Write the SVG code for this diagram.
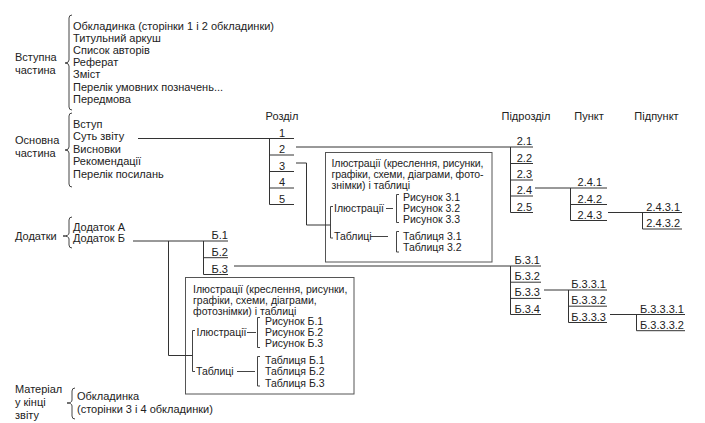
<svg xmlns="http://www.w3.org/2000/svg" width="705" height="423" viewBox="0 0 705 423">
<style>
text { font-family: "Liberation Sans", Arial, sans-serif; font-size: 11px; fill: #222; }
.bx text { font-size: 10.5px; }
.ln { stroke: #333; stroke-width: 1; fill: none; }
.br { stroke: #444; stroke-width: 1; fill: none; }
.box { stroke: #555; stroke-width: 1; fill: none; }
.e { text-anchor: end; }
.m { text-anchor: middle; }
</style>
<rect width="705" height="423" fill="#fff"/>

<g id="intro">
<text x="15" y="61">Вступна</text>
<text x="15" y="73.5">частина</text>
<path class="br" d="M72,15 Q69,15 69,18 V60 Q69,63 65,63 Q69,63 69,66 V107 Q69,110 72,110"/>
<text x="73" y="29.5">Обкладинка (сторінки 1 і 2 обкладинки)</text>
<text x="73" y="41.7">Титульний аркуш</text>
<text x="73" y="53.9">Список авторів</text>
<text x="73" y="66.1">Реферат</text>
<text x="73" y="78.3">Зміст</text>
<text x="73" y="90.5">Перелік умовних позначень...</text>
<text x="73" y="102.7">Передмова</text>
</g>

<g id="main-part">
<text x="15" y="144.4">Основна</text>
<text x="15" y="157">частина</text>
<path class="br" d="M72,113 Q69,113 69,116 V147 Q69,150 65,150 Q69,150 69,153 V184 Q69,187 72,187"/>
<text x="73" y="127.7">Вступ</text>
<text x="73" y="140.2">Суть звіту</text>
<text x="73" y="152.7">Висновки</text>
<text x="73" y="165.2">Рекомендації</text>
<text x="73" y="177.7">Перелік посилань</text>
</g>

<g id="appendices">
<text x="15" y="239.7">Додатки</text>
<path class="br" d="M72,217 Q69,217 69,220 V233 Q69,236 63,236 Q69,236 69,239 V245 Q69,248 72,248"/>
<text x="73" y="231.4">Додаток А</text>
<text x="73" y="242">Додаток Б</text>
</g>

<g id="end-material">
<text x="15" y="393">Матеріал</text>
<text x="15" y="406">у кінці</text>
<text x="15" y="419">звіту</text>
<path class="br" d="M75,388 Q72,388 72,391 V400 Q72,403 67,403 Q72,403 72,406 V416 Q72,419 75,419"/>
<text x="77" y="400">Обкладинка</text>
<text x="77" y="413">(сторінки 3 і 4 обкладинки)</text>
</g>

<g id="headers">
<text class="m" x="282" y="119.5">Розділ</text>
<text class="m" x="526" y="119.7">Підрозділ</text>
<text class="m" x="589" y="119.7">Пункт</text>
<text class="m" x="656.5" y="119.7">Підпункт</text>
</g>

<g id="sections">
<text class="m" x="282" y="136.5">1</text>
<text class="m" x="282" y="153">2</text>
<text class="m" x="282" y="169.5">3</text>
<text class="m" x="282" y="186">4</text>
<text class="m" x="282" y="202.5">5</text>
</g>

<g id="subsections-2">
<text class="e" x="532" y="145">2.1</text>
<text class="e" x="532" y="161.5">2.2</text>
<text class="e" x="532" y="178">2.3</text>
<text class="e" x="532" y="194.2">2.4</text>
<text class="e" x="532" y="210.6">2.5</text>
</g>

<g id="points-2-4">
<text class="e" x="602" y="186">2.4.1</text>
<text class="e" x="602" y="202.5">2.4.2</text>
<text class="e" x="602" y="218.5">2.4.3</text>
</g>

<g id="subpoints-2-4-3">
<text class="e" x="680" y="210.5">2.4.3.1</text>
<text class="e" x="680" y="227">2.4.3.2</text>
</g>

<g id="box-3" class="bx">
<rect class="box" x="325.5" y="152.5" width="166.5" height="109.5"/>
<text x="331.5" y="166.5" textLength="152" lengthAdjust="spacing">Ілюстрації (креслення, рисунки,</text>
<text x="331.5" y="177.5" textLength="152" lengthAdjust="spacing">графіки, схеми, діаграми, фото-</text>
<text x="331.5" y="188.5">знімки) і таблиці</text>
<path class="br" d="M333,206.5 H330.5 V238 H333"/>
<text x="334" y="212">Ілюстрації</text>
<path class="br" d="M386,208.5 H393"/>
<path class="br" d="M399,194.5 H396.5 V222.5 H399"/>
<text x="403" y="201">Рисунок 3.1</text>
<text x="403" y="212">Рисунок 3.2</text>
<text x="403" y="223">Рисунок 3.3</text>
<text x="334" y="240.4">Таблиці</text>
<path class="br" d="M370,236.5 H388"/>
<path class="br" d="M399,231.5 H396.5 V252 H399"/>
<text x="403" y="240">Таблиця 3.1</text>
<text x="403" y="251">Таблиця 3.2</text>
</g>

<g id="b-sections">
<text class="e" x="228" y="239">Б.1</text>
<text class="e" x="228" y="255.7">Б.2</text>
<text class="e" x="228" y="272.5">Б.3</text>
</g>

<g id="b3-subsections">
<text class="e" x="540" y="264">Б.3.1</text>
<text class="e" x="540" y="280.2">Б.3.2</text>
<text class="e" x="540" y="296.4">Б.3.3</text>
<text class="e" x="540" y="312.5">Б.3.4</text>
</g>

<g id="b33-points">
<text class="e" x="606" y="288">Б.3.3.1</text>
<text class="e" x="606" y="304.2">Б.3.3.2</text>
<text class="e" x="606" y="320.5">Б.3.3.3</text>
</g>

<g id="b333-subpoints">
<text class="e" x="684" y="312.5">Б.3.3.3.1</text>
<text class="e" x="684" y="328.7">Б.3.3.3.2</text>
</g>

<g id="box-b" class="bx">
<rect class="box" x="185.5" y="277.5" width="168.5" height="116.5"/>
<text x="193" y="293">Ілюстрації (креслення, рисунки,</text>
<text x="193" y="304">графіки, схеми, діаграми,</text>
<text x="193" y="315">фотознімки) і таблиці</text>
<path class="br" d="M195,330.5 H192.5 V371.5 H195"/>
<text x="196.5" y="336">Ілюстрації</text>
<path class="br" d="M247,332.5 H256"/>
<path class="br" d="M260,317.5 H257.5 V347.5 H260"/>
<text x="265" y="325.4">Рисунок Б.1</text>
<text x="265" y="336.4">Рисунок Б.2</text>
<text x="265" y="347.4">Рисунок Б.3</text>
<text x="196" y="374.7">Таблиці</text>
<path class="br" d="M237,371.5 H255"/>
<path class="br" d="M260,356.5 H257.5 V386 H260"/>
<text x="265" y="363.7">Таблиця Б.1</text>
<text x="265" y="375.2">Таблиця Б.2</text>
<text x="265" y="386.6">Таблиця Б.3</text>
</g>

<g id="connectors">
<path class="ln" d="M138,138.5 H294 M269.5,138.5 V204.5 M269.5,155 H294 M269.5,171.5 H294 M269.5,188 H294 M269.5,204.5 H294"/>
<path class="ln" d="M296,147 H533 M510.5,147 V212.5 M510.5,163.5 H533 M510.5,180 H533 M510.5,196 H533 M510.5,212.5 H533"/>
<path class="ln" d="M535,188 H607 M570.5,188 V220.5 M570.5,204.5 H607 M570.5,220.5 H607"/>
<path class="ln" d="M608,212.5 H682 M642.5,212.5 V229 M642.5,229 H682"/>
<path class="ln" d="M296,163 H306.5 V225 H330.5"/>
<path class="ln" d="M133,241 H228 M203.5,241 V274.5 M203.5,257.7 H228 M203.5,274.5 H228"/>
<path class="ln" d="M168.5,241 V355.5 H192.5"/>
<path class="ln" d="M234,266 H541 M510.5,266 V314.5 M510.5,282.2 H541 M510.5,298.4 H541 M510.5,314.5 H541"/>
<path class="ln" d="M544,290 H607 M568.5,290 V322.5 M568.5,306.2 H607 M568.5,322.5 H607"/>
<path class="ln" d="M610,314.5 H685 M636.5,314.5 V330.7 M636.5,330.7 H685"/>
</g>
</svg>
